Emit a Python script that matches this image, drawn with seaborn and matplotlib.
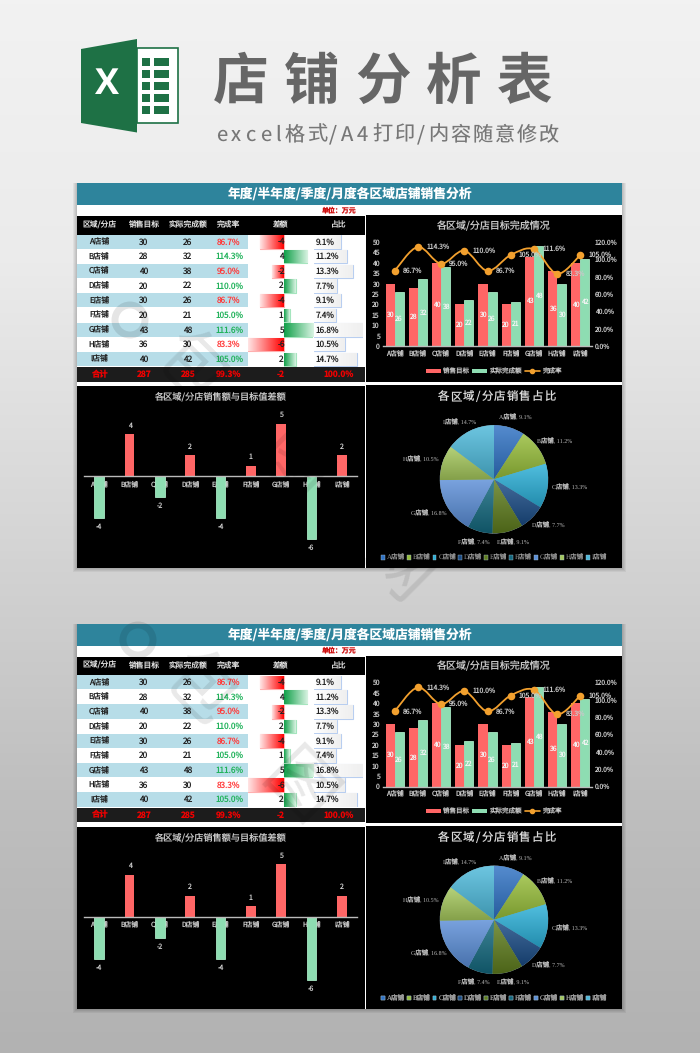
import numpy as np
import pandas as pd
import matplotlib
matplotlib.use("Agg")
import matplotlib.pyplot as plt
import seaborn as sns
from matplotlib.colors import LinearSegmentedColormap, to_rgb
from matplotlib.lines import Line2D
from matplotlib.patches import Circle, Patch, PathPatch, Polygon, Rectangle
from matplotlib.path import Path

# data
stores = ["A店铺", "B店铺", "C店铺", "D店铺", "E店铺", "F店铺", "G店铺", "H店铺", "I店铺"]
target = [30, 28, 40, 20, 30, 20, 43, 36, 40]
actual = [26, 32, 38, 22, 26, 21, 48, 30, 42]
rate = [86.7, 114.3, 95.0, 110.0, 86.7, 105.0, 111.6, 83.3, 105.0]
diff = [-4, 4, -2, 2, -4, 1, 5, -6, 2]
share = [9.1, 11.2, 13.3, 7.7, 9.1, 7.4, 16.8, 10.5, 14.7]
header = ["区域/分店", "销售目标", "实际完成额", "完成率", "差额", "占比"]
total = ["合计", "287", "285", "99.3%", "-2", "100.0%"]
pie_colors = ["#2F72C4", "#97BE3A", "#2BB0D8", "#1B4C86", "#5F7D1E",
              "#14697F", "#5C8FD8", "#A5C85C", "#4DB9DA"]

W, H = 700, 1053
RED = "#FF6666"
GREEN = "#8EDDB2"
GREY = "#C8C8C8"
SERIF = ["Liberation Serif", "Noto Sans CJK SC"]

sns.set_theme(style="white")
plt.rcParams["font.family"] = ["Noto Sans CJK SC"]
plt.rcParams["axes.unicode_minus"] = False
plt.rcParams["text.hinting"] = "no_hinting"
plt.rcParams["text.hinting_factor"] = 1
plt.rcParams["text.kerning_factor"] = 0

fig = plt.figure(figsize=(7, 10.53), dpi=100)


def px_axes(x0, y0, x1, y1, z=1):
    ax = fig.add_axes([x0 / W, 1 - y1 / H, (x1 - x0) / W, (y1 - y0) / H], zorder=z)
    ax.patch.set_alpha(0)
    return ax


def gradient(ax, extent, c0, c1, clip, vertical=False):
    cmap = LinearSegmentedColormap.from_list("g", [c0, c1])
    arr = np.linspace(0, 1, 64).reshape(-1, 1) if vertical else np.linspace(0, 1, 64).reshape(1, -1)
    im = ax.imshow(arr, extent=extent, origin="lower", aspect="auto", cmap=cmap, zorder=clip.get_zorder() + 0.1)
    im.set_clip_path(clip)


def shade(c, k):
    r = np.array(to_rgb(c))
    return tuple(r * k) if k <= 1 else tuple(r + (1 - r) * (k - 1))


# page background
page = px_axes(0, 0, W, H, z=0)
page.imshow(np.linspace(0, 1, 256).reshape(-1, 1), extent=[0, W, H, 0], aspect="auto",
            cmap=LinearSegmentedColormap.from_list("bg", ["#F2F2F2", "#EBEBEB", "#D6D6D6", "#BFBFBF", "#B2B2B2"]))
page.set_xlim(0, W)
page.set_ylim(H, 0)
page.axis("off")

# top level text overlay
top = px_axes(0, 0, W, H, z=10)
top.set_xlim(0, W)
top.set_ylim(H, 0)
top.axis("off")

# excel logo
XL = "#1E7145"
page.add_patch(Rectangle((137, 48), 41, 75, fc="white", ec=XL, lw=1.2))
for ry in [58, 70, 82, 94, 106]:
    page.add_patch(Rectangle((141.5, ry), 8, 7.5, fc=XL, lw=0))
    page.add_patch(Rectangle((154, ry), 14.5, 7.5, fc=XL, lw=0))
page.add_patch(Polygon([(81, 49), (137, 39), (137, 132.5), (81, 123)], fc=XL, lw=0))
page.text(107, 85, "X", color="white", fontsize=26, fontweight="bold", family="Open Sans", ha="center", va="center")

# big title
for ch, cx in zip("店铺分析表", [241, 312, 383, 454, 525]):
    page.text(cx, 83, ch, color="#666666", fontsize=40, fontweight="bold", ha="center", va="center")


def spaced(ax, x, y, s, size, gap, color):
    # letter spacing by hand, one text per character
    r = fig.canvas.get_renderer()
    em = size * 100 / 72
    for ch in s:
        t = ax.text(x, y, ch, fontsize=size, color=color, ha="left", va="center")
        if ch == "/":
            adv = em * 0.45
        elif ord(ch) < 128:
            adv = t.get_window_extent(r).width + em * 0.1
        else:
            adv = em
        x += adv + gap


spaced(page, 216, 135, "excel格式/A4打印/内容随意修改", 14.5, 2.1, "#777777")


def draw_shadow(x, y, w, h):
    for k in [4, 3, 2, 1]:
        page.add_patch(Rectangle((x - k, y), w + 2 * k, h + k, fc="black", alpha=0.05, lw=0))


def draw_table(dy):
    draw_shadow(77, 183 + dy, 545, 385)
    page.add_patch(Rectangle((77, 183 + dy), 545, 385, fc="white", lw=0))
    page.add_patch(Rectangle((77, 183 + dy), 545, 22, fc="#2E849C", lw=0))
    top.text(350, 194 + dy, "年度/半年度/季度/月度各区域店铺销售分析", color="white", fontsize=9.2,
             fontweight="bold", ha="center", va="center")
    top.text(339.5, 211 + dy, "单位：万元", color="#D01010", fontsize=5, fontweight="bold", ha="center", va="center")
    page.add_patch(Rectangle((77, 216 + dy), 288, 18.5, fc="black", lw=0))
    page.add_patch(Rectangle((77, 367 + dy), 288, 14.5, fc="#1C1C1C", lw=0))

    col_x = [99, 144, 188, 229, 281, 339]
    for cx, txt in zip(col_x, header):
        top.text(cx, 225 + dy, txt, color="#E0E0E0", fontsize=5.6, ha="center", va="center")
    for cx, txt in zip(col_x, total):
        top.text(cx, 374.5 + dy, txt, color="#F00000", fontsize=6, fontweight="bold", ha="center", va="center")

    row_h = 14.67
    for i, name in enumerate(stores):
        y0 = 234.6 + dy + i * row_h
        yc = y0 + row_h / 2
        if i % 2 == 0:
            page.add_patch(Rectangle((77, y0), 171, row_h - 0.6, fc="#B7DDE8", lw=0))
        col = "#FF3B3B" if rate[i] < 100 else "#20B25A"
        top.text(99, yc, name, color="#222222", fontsize=5.6, ha="center", va="center")
        top.text(144, yc, str(target[i]), color="#222222", fontsize=6, ha="center", va="center")
        top.text(188, yc, str(actual[i]), color="#222222", fontsize=6, ha="center", va="center")
        top.text(229, yc, f"{rate[i]:.1f}%", color=col, fontsize=5.9, ha="center", va="center")
        top.text(285 if diff[i] < 0 else 283.5, yc, str(diff[i]), color="#222222", fontsize=6, ha="right", va="center")
        top.text(315.5, yc, f"{share[i]:.1f}%", color="#222222", fontsize=5.9, ha="left", va="center")

    # data bars in the 差额 column
    ax = px_axes(248.3, 234.6 + dy, 313.4, 366.6 + dy)
    df = pd.DataFrame({"store": stores, "diff": diff, "sign": ["up" if d > 0 else "down" for d in diff]})
    sns.barplot(df, x="diff", y="store", hue="sign", dodge=False, width=0.92, orient="h",
                palette={"up": "#17A84E", "down": "#FF1010"}, legend=False, ax=ax, lw=0.8)
    ax.set_xlim(-6, 5)
    ax.set_ylim(8.5, -0.5)
    ax.autoscale(False)
    ax.axis("off")
    for p in ax.patches:
        if p.get_width() == 0:
            continue
        up = p.get_width() > 0
        p.set_edgecolor("#A5E5BE" if up else "#FFB0B0")
        x0, x1 = p.get_x(), p.get_x() + p.get_width()
        gradient(ax, [x0, x1, p.get_y(), p.get_y() + p.get_height()],
                 "#12A04A" if up else "#FF0000", "#D8F3E2" if up else "#FFE4E4", p)

    # data bars in the 占比 column
    ax = px_axes(314.3, 234.6 + dy, 363.3, 366.6 + dy)
    sns.barplot(x=share, y=stores, color="white", width=0.92, orient="h", ax=ax,
                edgecolor="#B8CEF0", lw=0.8)
    ax.set_xlim(0, 16.8)
    ax.set_ylim(8.5, -0.5)
    ax.autoscale(False)
    ax.axis("off")
    for p in ax.patches:
        gradient(ax, [0, p.get_width(), p.get_y(), p.get_y() + p.get_height()], "#FFFFFF", "#EFEFEF", p)


def draw_combo(dy):
    page.add_patch(Rectangle((366, 215 + dy), 256, 167, fc="black", lw=0))
    top.text(494, 226 + dy, "各区域/分店目标完成情况", color=GREY, fontsize=7.2, ha="center", va="center")

    ax = px_axes(383, 242 + dy, 592, 346 + dy, z=2)
    df = pd.DataFrame({"store": stores * 2, "value": target + actual,
                       "kind": ["销售目标"] * 9 + ["实际完成额"] * 9})
    sns.barplot(df, x="store", y="value", hue="kind", palette=[RED, GREEN], width=0.78, saturation=1,
                legend=False, ax=ax, lw=0)
    for p in ax.containers[1]:
        p.set_edgecolor("#A9E8C4")
        p.set_linewidth(0.6)
    for c in ax.containers:
        ax.bar_label(c, label_type="center", color="#F4F4F4", fontsize=4.9)
    ax.set_ylim(0, 50)
    ax.set_yticks(range(0, 51, 5))
    ax.set_xlim(-0.5, 8.5)
    ax.set_xlabel("")
    ax.set_ylabel("")
    ax.tick_params(colors=GREY, labelsize=4.9, length=0, pad=2.5)
    sns.despine(ax=ax, left=True)
    ax.spines["bottom"].set_color("#BBBBBB")
    ax.spines["bottom"].set_linewidth(1)

    ax2 = ax.twinx()
    ax2.patch.set_alpha(0)
    # smoothed line like excel, bezier through the points
    xs = np.arange(len(rate), dtype=float)
    ys = np.array(rate)
    verts = [(xs[0], ys[0])]
    codes = [Path.MOVETO]
    for i in range(len(xs) - 1):
        a, d = max(i - 1, 0), min(i + 2, len(xs) - 1)
        verts += [(xs[i] + (xs[i + 1] - xs[a]) / 6, ys[i] + (ys[i + 1] - ys[a]) / 6),
                  (xs[i + 1] - (xs[d] - xs[i]) / 6, ys[i + 1] - (ys[d] - ys[i]) / 6),
                  (xs[i + 1], ys[i + 1])]
        codes += [Path.CURVE4] * 3
    ax2.add_patch(PathPatch(Path(verts, codes), fc="none", ec="#F2A02E", lw=1.3, zorder=3))
    sns.scatterplot(x=xs, y=ys, color="#F2A02E", s=30, lw=0, ax=ax2, zorder=4)
    for x, y in zip(xs, ys):
        ax2.annotate(f"{y:.1f}%", (x, y), xytext=(6, 0), textcoords="offset points", color=GREY,
                     fontsize=4.9, va="center", ha="left", zorder=5)
    ax2.set_ylim(0, 120)
    ax2.set_xlim(-0.5, 8.5)
    ax2.set_yticks(range(0, 121, 20))
    ax2.set_yticklabels([f"{v:.1f}%" for v in range(0, 121, 20)])
    ax2.tick_params(colors=GREY, labelsize=4.8, length=0, pad=2)
    for s in ax2.spines.values():
        s.set_visible(False)

    handles = [Patch(fc=RED, lw=0), Patch(fc=GREEN, lw=0),
               Line2D([], [], color="#F2A02E", marker="o", ms=3, lw=1.2)]
    lg = top.legend(handles, ["销售目标", "实际完成额", "完成率"], loc="center", ncol=3, frameon=False, fontsize=4.7,
                    labelcolor=GREY, bbox_to_anchor=(494 / W, 1 - (371 + dy) / H), handlelength=2.2, handleheight=0.6,
                    handletextpad=0.4, columnspacing=0.5, borderpad=0)
    top.add_artist(lg)


def draw_diff(dy):
    page.add_patch(Rectangle((77, 386 + dy), 288, 182, fc="black", lw=0))
    top.text(220, 397 + dy, "各区域/分店销售额与目标值差额", color=GREY, fontsize=6.6, ha="center", va="center")
    ax = px_axes(84, 418.5 + dy, 357, 544.5 + dy, z=2)
    df = pd.DataFrame({"store": stores, "diff": diff, "sign": ["up" if d > 0 else "down" for d in diff]})
    sns.barplot(df, x="store", y="diff", hue="sign", dodge=False, width=0.32, saturation=1,
                palette={"up": RED, "down": GREEN}, legend=False, ax=ax, lw=0)
    for p in ax.patches:
        if p.get_height() < 0:
            p.set_edgecolor("#A9E8C4")
            p.set_linewidth(0.6)
    for x, d in enumerate(diff):
        ax.annotate(str(d), (x, d), xytext=(0, 6.3 if d > 0 else -6.3), textcoords="offset points",
                    color=GREY, fontsize=5, ha="center", va="center")
    ax.set_ylim(-6.5, 5.5)
    ax.set_xlim(-0.5, 8.5)
    ax.set_xlabel("")
    ax.set_ylabel("")
    ax.set_yticks([])
    ax.tick_params(colors=GREY, labelsize=4.9, length=0, pad=3)
    sns.despine(ax=ax, left=True)
    ax.spines["bottom"].set_position(("data", 0))
    ax.spines["bottom"].set_color("#BBBBBB")
    ax.spines["bottom"].set_linewidth(1)
    ax.spines["bottom"].set_zorder(5)


def draw_pie(dy):
    page.add_patch(Rectangle((366, 385 + dy), 256, 183, fc="black", lw=0))
    spaced(top, 438, 397 + dy, "各区域/分店销售占比", 8.2, 1.1, "#D8D8D8")
    R = 54
    cy = 479.3 + dy
    ax = px_axes(494 - R, cy - R, 494 + R, cy + R, z=2)
    wedges, _ = ax.pie(share, colors=pie_colors, startangle=90, counterclock=False, radius=1,
                       wedgeprops={"lw": 0.3, "ec": "#9FB8C8"})
    ax.set_xlim(-1, 1)
    ax.set_ylim(-1, 1)
    ax.autoscale(False)
    for w, c, name, val in zip(wedges, pie_colors, stores, share):
        e = w.get_path().get_extents()
        gradient(ax, [e.x0, e.x1, e.y0, e.y1], shade(c, 0.8), shade(c, 1.18), w, vertical=True)
        a = np.deg2rad((w.theta1 + w.theta2) / 2)
        lx = np.cos(a) * (1.12 * R + 16) / R
        ly = np.sin(a) * (1.12 * R + 4) / R
        ax.text(lx, ly, f"{name}, {val:.1f}%", color="#BDBDBD", fontsize=4.6, family=SERIF,
                ha="center", va="center", clip_on=False)
    lg = top.legend(wedges, stores, loc="center", ncol=9, frameon=False, labelcolor="#9A9A9A",
                    prop={"family": SERIF, "size": 4.7}, bbox_to_anchor=(494 / W, 1 - (558 + dy) / H),
                    handlelength=0.6, handleheight=0.6, handletextpad=0.3, columnspacing=0.3, borderpad=0)
    top.add_artist(lg)


def draw_watermark(dx, dy):
    # black with low alpha, so it shows on the white and grey parts only
    top.add_patch(Circle((130 + dx, 320 + dy), 15, fc="none", ec="black", lw=5, alpha=0.1))
    for ch, (cx, cy) in zip("包图网", [(190, 370), (290, 470), (395, 570)]):
        top.text(cx + dx, cy + dy, ch, fontsize=50, color="black", alpha=0.09, rotation=-45,
                 rotation_mode="anchor", ha="center", va="center")


for dy in [0, 440.5]:
    draw_table(dy)
    draw_combo(dy)
    draw_diff(dy)
    draw_pie(dy)
draw_watermark(0, 0)
draw_watermark(8, 320)

fig.savefig("out.png", dpi=100)
